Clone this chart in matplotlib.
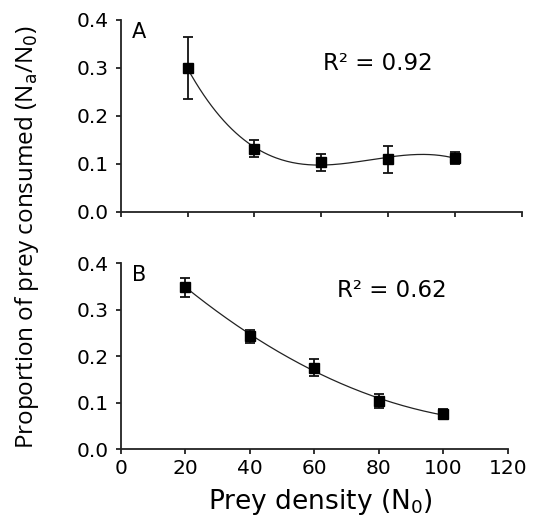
import numpy as np
import matplotlib.pyplot as plt

# prey density
density = [20, 40, 60, 80, 100]

# panel A: means and error bar ends
prop_a = [0.300, 0.131, 0.104, 0.110, 0.113]
err_a_lo = [0.064, 0.017, 0.018, 0.028, 0.012]
err_a_hi = [0.065, 0.019, 0.017, 0.028, 0.011]

# panel B
prop_b = [0.349, 0.244, 0.175, 0.103, 0.075]
err_b_lo = [0.021, 0.017, 0.019, 0.015, 0.010]
err_b_hi = [0.019, 0.012, 0.019, 0.015, 0.011]

r2_labels = ['R² = 0.92', 'R² = 0.62']
panel_labels = ['A', 'B']
fit_degree = [3, 2]

tick_font = 'DejaVu Sans'
text_font = 'DejaVu Sans'

fig = plt.figure(figsize=(5.35, 5.22), dpi=100)
ax_a = fig.add_axes([0.2256, 0.5939, 0.7495, 0.3678])
ax_b = fig.add_axes([0.2256, 0.1398, 0.7234, 0.3563])

panels = [(ax_a, prop_a, err_a_lo, err_a_hi), (ax_b, prop_b, err_b_lo, err_b_hi)]
for i, (ax, prop, lo, hi) in enumerate(panels):
    # fitted curve through the means
    coef = np.polyfit(density, prop, fit_degree[i])
    xs = np.linspace(density[0], density[-1], 200)
    ax.plot(xs, np.polyval(coef, xs), color='#222222', lw=0.9)
    ax.errorbar(density, prop, yerr=[lo, hi], fmt='s', color='black', ms=7,
                ecolor='#111111', elinewidth=1.3, capsize=3.5, capthick=1.3)

    ax.set_xlim(0, 120)
    ax.set_ylim(0, 0.4)
    ax.set_xticks(range(0, 121, 20))
    ax.set_yticks([0.0, 0.1, 0.2, 0.3, 0.4])
    ax.set_yticklabels(['%.1f' % v for v in ax.get_yticks()], family=tick_font, fontsize=14.5)
    for s in ['top', 'right']:
        ax.spines[s].set_visible(False)
    for s in ['left', 'bottom']:
        ax.spines[s].set_linewidth(1.3)
        ax.spines[s].set_color('#222222')
    ax.tick_params(direction='out', length=3.5, width=1.3, color='#222222')
    ax.tick_params(axis='y', pad=5)
    ax.tick_params(axis='x', pad=3.5)

    ax.text(0.028, 0.905, panel_labels[i], transform=ax.transAxes, va='baseline', ha='left',
            family=text_font, fontsize=15)

ax_a.tick_params(axis='x', labelbottom=False)
ax_b.set_xticklabels([str(v) for v in range(0, 121, 20)], family=tick_font, fontsize=14.5)

ax_a.text(0.504, 0.74, r2_labels[0], transform=ax_a.transAxes, va='baseline', ha='left',
          family=text_font, fontsize=16.5)
ax_b.text(0.559, 0.816, r2_labels[1], transform=ax_b.transAxes, va='baseline', ha='left',
          family=text_font, fontsize=16.5)

fig.text(0.598, 0.024, r'Prey density (N$_\mathrm{0}$)', ha='center', va='baseline',
         family=text_font, fontsize=19)
fig.text(0.05, 0.546, r'Proportion of prey consumed (N$_\mathrm{a}$/N$_\mathrm{0}$)', rotation=90,
         ha='center', va='center', family='Open Sans', fontsize=17.5)

fig.savefig('out.png', dpi=100)
